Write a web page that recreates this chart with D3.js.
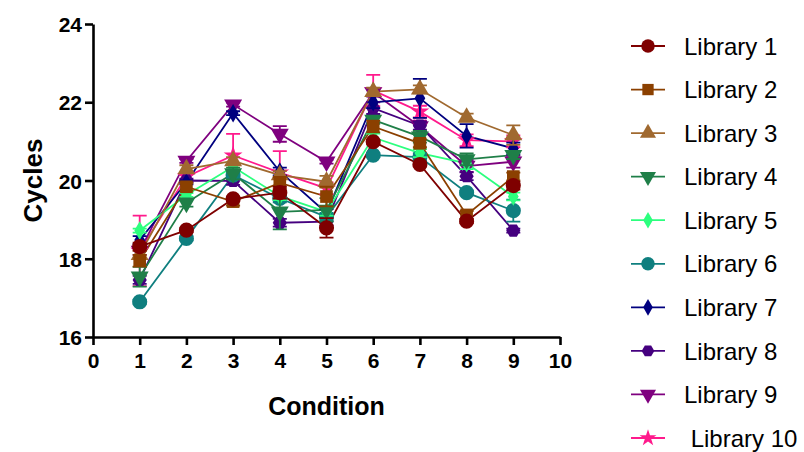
<!DOCTYPE html>
<html>
<head>
<meta charset="utf-8">
<script src="https://cdn.jsdelivr.net/npm/d3@7"></script>
<style>
  body { margin: 0; background: #fff; }
  svg { font-family: 'Liberation Sans', Arial, sans-serif; }
  .axis path, .axis line { stroke: #000; stroke-width: 2.6; }
  .axis text { font-size: 21px; font-weight: bold; fill: #000; }
</style>
</head>
<body>
<svg id="chart" width="804" height="452"></svg>
<script>
const conditions = [1, 2, 3, 4, 5, 6, 7, 8, 9]
const libraries = ['Library 1', 'Library 2', 'Library 3', 'Library 4', 'Library 5',
    'Library 6', 'Library 7', 'Library 8', 'Library 9', ' Library 10']
const xTicks = [0, 1, 2, 3, 4, 5, 6, 7, 8, 9, 10]
const yTicks = [16, 18, 20, 22, 24]

const lib1 = [18.31, 18.73, 19.53, 19.69, 18.79, 20.99, 20.41, 18.96, 19.87]
const lib2 = [17.95, 19.84, 19.46, 19.94, 19.59, 21.38, 20.95, 19.12, 20.10]
const lib3 = [18.10, 20.29, 20.50, 20.14, 19.97, 22.27, 22.33, 21.61, 21.16]
const lib4 = [17.54, 19.43, 20.18, 19.20, 19.25, 21.55, 21.12, 20.54, 20.65]
const lib5 = [18.72, 19.63, 20.35, 19.60, 19.20, 21.10, 20.70, 20.44, 19.59]
const lib6 = [16.90, 18.52, 20.14, 19.54, 19.07, 20.65, 20.60, 19.69, 19.23]
const lib7 = [18.48, 19.95, 21.72, 20.23, 19.17, 22.00, 22.10, 21.14, 20.82]
const lib8 = [17.46, 20.00, 19.99, 18.92, 18.95, 21.85, 21.40, 20.11, 18.72]
const lib9 = [18.20, 20.50, 21.94, 21.19, 20.48, 22.25, 21.38, 20.37, 20.48]
const lib10 = [18.20, 20.10, 20.64, 20.20, 19.80, 22.30, 21.76, 21.03, 21.00]

const sd1 = [0.10, 0.05, 0.05, 0.15, 0.25, 0.05, 0.05, 0.05, 0.10]
const sd2 = [0.15, 0.10, 0.10, 0.15, 0.25, 0.15, 0.10, 0.10, 0.10]
const sd3 = [0.10, 0.10, 0.10, 0.10, 0.15, 0.10, 0.10, 0.10, 0.25]
const sd4 = [0.25, 0.10, 0.15, 0.45, 0.30, 0.10, 0.15, 0.15, 0.10]
const sd5 = [0.05, 0.05, 0.10, 0.10, 0.10, 0.10, 0.10, 0.15, 0.10]
const sd6 = [0.05, 0.05, 0.10, 0.10, 0.10, 0.05, 0.10, 0.05, 0.28]
const sd7 = [0.10, 0.05, 0.05, 0.10, 0.10, 0.15, 0.50, 0.30, 0.15]
const sd8 = [0.10, 0.05, 0.10, 0.10, 0.10, 0.15, 0.10, 0.10, 0.05]
const sd9 = [0.10, 0.05, 0.05, 0.20, 0.05, 0.10, 0.15, 0.15, 0.15]
const sd10 = [0.90, 0.10, 0.55, 0.55, 0.15, 0.40, 0.15, 0.15, 0.15]

const colors = ['#7f0000', '#8b4000', '#a0692f', '#1f7f48', '#2cff7e',
    '#0f7f7f', '#00007f', '#45007f', '#7f007f', '#ff1a8c']
const shapes = [d3.symbolCircle, d3.symbolSquare, d3.symbolTriangle, 'tri-down', d3.symbolDiamond,
    d3.symbolCircle, d3.symbolDiamond, 'hex', 'tri-down', d3.symbolStar]
const sizes = [180, 160, 140, 140, 100, 180, 100, 130, 140, 110]

const values = [lib1, lib2, lib3, lib4, lib5, lib6, lib7, lib8, lib9, lib10]
const sds = [sd1, sd2, sd3, sd4, sd5, sd6, sd7, sd8, sd9, sd10]

const series = libraries.map((name, i) => ({
    name,
    color: colors[i],
    shape: shapes[i],
    size: sizes[i],
    points: conditions.map((c, j) => ({ x: c, y: values[i][j], sd: sds[i][j] }))
}))

const svg = d3.select('#chart')
const margin = { left: 93, top: 24, right: 244, bottom: 115 }
const width = 804 - margin.left - margin.right
const height = 452 - margin.top - margin.bottom

const x = d3.scaleLinear().domain([0, 10]).range([margin.left, margin.left + width])
const y = d3.scaleLinear().domain([16, 24]).range([margin.top + height, margin.top])

function symbolPath (shape, size) {
    if (shape === 'tri-down') {
        const side = Math.sqrt(size * 4 / Math.sqrt(3))
        const h = side * Math.sqrt(3) / 2
        return `M${-side / 2},${-h / 3}L${side / 2},${-h / 3}L0,${2 * h / 3}Z`
    }
    if (shape === 'hex') {
        const r = Math.sqrt(size / (1.5 * Math.sqrt(3)))
        const pts = d3.range(6).map(k => {
            const a = Math.PI / 3 * k
            return [r * Math.cos(a), r * Math.sin(a)]
        })
        return 'M' + pts.map(p => p.join(',')).join('L') + 'Z'
    }
    return d3.symbol().type(shape).size(size)()
}

// axes
const xAxis = svg.append('g')
    .attr('class', 'axis')
    .attr('transform', `translate(0,${margin.top + height})`)
    .call(d3.axisBottom(x).tickValues(xTicks).tickSize(8).tickPadding(5).tickSizeOuter(0))
xAxis.selectAll('text').attr('dy', '0.88em')

const yAxis = svg.append('g')
    .attr('class', 'axis')
    .attr('transform', `translate(${margin.left},0)`)
    .call(d3.axisLeft(y).tickValues(yTicks).tickSize(8).tickPadding(3).tickSizeOuter(0))
yAxis.selectAll('text').attr('dy', '0.36em')

svg.append('text')
    .attr('x', x(5))
    .attr('y', 415)
    .attr('text-anchor', 'middle')
    .style('font-size', '25px')
    .style('font-weight', 'bold')
    .text('Condition')

svg.append('text')
    .attr('transform', `translate(42,${y(20)}) rotate(-90)`)
    .attr('text-anchor', 'middle')
    .style('font-size', '26px')
    .style('font-weight', 'bold')
    .text('Cycles')

// series, drawn last-to-first so Library 1 sits on top
const line = d3.line().x(d => x(d.x)).y(d => y(d.y))
const gSeries = svg.append('g').attr('class', 'g-series')

const drawOrder = series.slice().reverse()

gSeries.selectAll('path.series-line')
    .data(drawOrder)
    .join('path')
    .attr('class', 'series-line')
    .attr('fill', 'none')
    .attr('stroke', d => d.color)
    .attr('stroke-width', 1.8)
    .attr('d', d => line(d.points))

const gWrap = gSeries.selectAll('g.g-wrap-series')
    .data(drawOrder)
    .join('g')
    .attr('class', 'g-wrap-series')

gWrap.each(function (s) {
    const g = d3.select(this)
    const bars = s.points.filter(p => p.sd > 0)
    g.selectAll('path.err')
        .data(bars)
        .join('path')
        .attr('class', 'err')
        .attr('fill', 'none')
        .attr('stroke', s.color)
        .attr('stroke-width', 1.8)
        .attr('d', p => {
            const cx = x(p.x), y0 = y(p.y - p.sd), y1 = y(p.y + p.sd)
            return `M${cx},${y0}V${y1}M${cx - 7},${y1}H${cx + 7}M${cx - 7},${y0}H${cx + 7}`
        })
    g.selectAll('path.marker')
        .data(s.points)
        .join('path')
        .attr('class', 'marker')
        .attr('fill', s.color)
        .attr('transform', p => `translate(${x(p.x)},${y(p.y)})`)
        .attr('d', symbolPath(s.shape, s.size))
})

// legend
const legend = svg.append('g').attr('class', 'legend')
const rowY = d3.scalePoint().domain(libraries).range([46, 438])

const item = legend.selectAll('g.item')
    .data(series)
    .join('g')
    .attr('class', 'item')
    .attr('transform', d => `translate(648,${rowY(d.name)})`)

item.append('line')
    .attr('x1', -17).attr('x2', 17)
    .attr('stroke', d => d.color)
    .attr('stroke-width', 1.8)

item.append('path')
    .attr('fill', d => d.color)
    .attr('d', d => symbolPath(d.shape, d.size * 0.8))

item.append('text')
    .attr('x', 36)
    .attr('dy', '0.36em')
    .style('font-size', '24px')
    .style('white-space', 'pre')
    .attr('xml:space', 'preserve')
    .text(d => d.name)
</script>
</body>
</html>
